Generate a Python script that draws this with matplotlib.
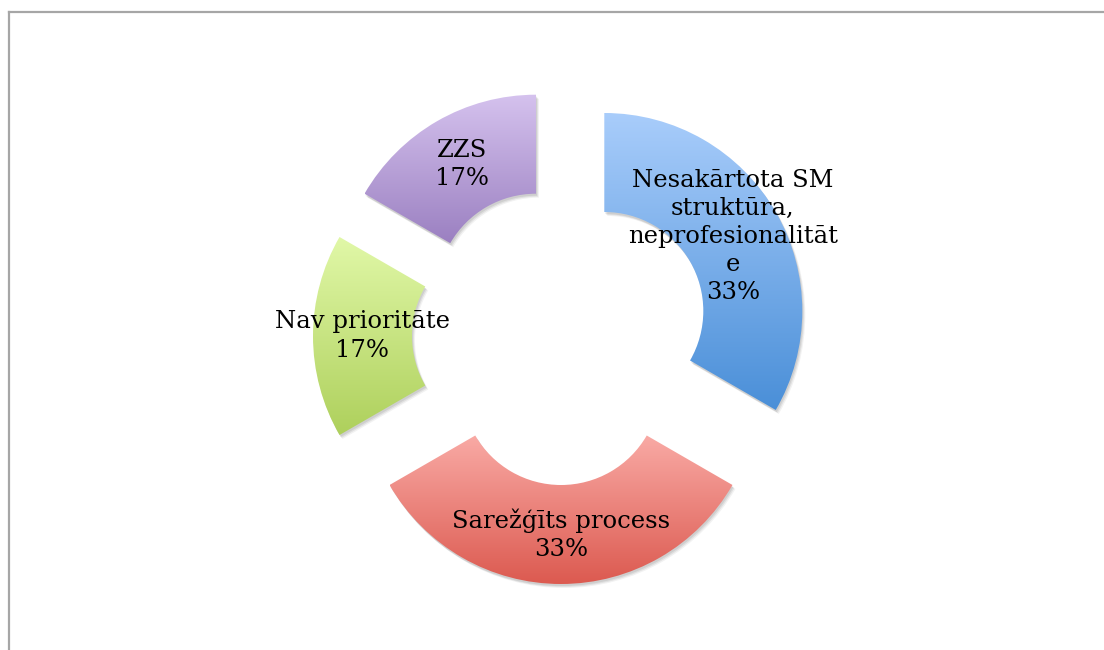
import numpy as np
import matplotlib
matplotlib.use("Agg")
import matplotlib.pyplot as plt
from matplotlib.colors import LinearSegmentedColormap
from matplotlib.patches import Wedge
from matplotlib.lines import Line2D

labels = ["Nesakārtota SM\nstruktūra,\nneprofesionalitāt\ne", "Sarežģīts process", "Nav prioritāte", "ZZS"]
values = [2, 2, 1, 1]
pct_labels = ["33%", "33%", "17%", "17%"]
top_colors = ["#a9cdfb", "#f9aaa5", "#e1f8a8", "#d5c2ee"]
bottom_colors = ["#4a8fd8", "#dc5a50", "#aed05c", "#9b80c1"]

W, H = 1104, 650
fig = plt.figure(figsize=(W / 100, H / 100), dpi=100)
ax = fig.add_axes([0, 0, 1, 1])

R = 198
cx, cy = 561, H - 336
wedges, _ = ax.pie(values, radius=R, center=(cx, cy), startangle=90, counterclock=False,
                   explode=[50] * 4, wedgeprops=dict(width=R * 0.5, linewidth=0),
                   frame=True)
ax.set_xlim(0, W)
ax.set_ylim(0, H)
ax.set_aspect("equal")
ax.axis("off")

for i, w in enumerate(wedges):
    w.set_facecolor("none")
    # soft shadow
    for k, (dx, dy, a) in enumerate([(3, -4, 0.05), (2, -3, 0.07), (1, -2, 0.08)]):
        sh = Wedge((w.center[0] + dx, w.center[1] + dy), w.r, w.theta1, w.theta2, width=w.width,
                   facecolor="#000000", alpha=a, linewidth=0, zorder=1)
        ax.add_patch(sh)
    # gradient fill
    bb = w.get_path().get_extents()
    x0, y0, x1, y1 = bb.x0, bb.y0, bb.x1, bb.y1
    cmap = LinearSegmentedColormap.from_list(f"g{i}", [bottom_colors[i], top_colors[i]])
    grad = np.linspace(0, 1, 256).reshape(-1, 1)
    im = ax.imshow(grad, extent=(x0, x1, y0, y1), origin="lower", cmap=cmap,
                   aspect="auto", zorder=2, interpolation="bilinear")
    clip = Wedge(w.center, w.r, w.theta1, w.theta2, width=w.width, facecolor="none",
                 linewidth=0, transform=ax.transData)
    ax.add_patch(clip)
    clip.set_visible(False)
    im.set_clip_path(clip)

    mid = np.deg2rad((w.theta1 + w.theta2) / 2)
    rm = w.r - w.width / 2
    tx = w.center[0] + rm * np.cos(mid)
    ty = w.center[1] + rm * np.sin(mid)
    ax.text(tx, ty, labels[i] + "\n" + pct_labels[i], ha="center", va="center",
            family="DejaVu Serif", fontsize=17.5, color="#000000", zorder=5,
            linespacing=1.28, multialignment="center")

ax.set_xlim(0, W)
ax.set_ylim(0, H)

fig.add_artist(Line2D([8.5 / W, 8.5 / W], [0, 1 - 11.5 / H], color="#a6a6a6", lw=1.6))
fig.add_artist(Line2D([8.5 / W, 1], [1 - 11.5 / H, 1 - 11.5 / H], color="#a6a6a6", lw=1.6))

fig.savefig("out.png", dpi=100, facecolor="white")
